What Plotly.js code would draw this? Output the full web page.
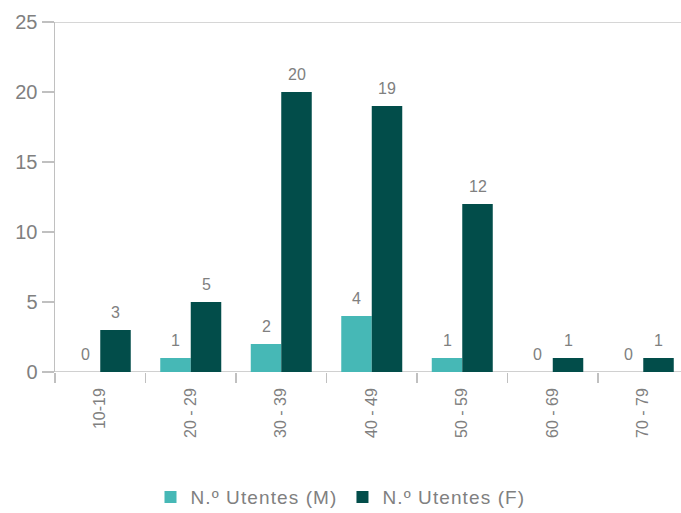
<!DOCTYPE html>
<html><head><meta charset="utf-8">
<script src="https://cdn.plot.ly/plotly-3.0.1.min.js"></script>
<style>html,body{margin:0;padding:0;background:#fff}
.legendtext{letter-spacing:1.1px}
</style>
</head><body><div id="chart" style="width:681px;height:513px"></div>
<script>
const categories = ["10-19", "20 - 29", "30 - 39", "40 - 49", "50 - 59", "60 - 69", "70 - 79"];
const utentesM = [0, 1, 2, 4, 1, 0, 0];
const utentesF = [3, 5, 20, 19, 12, 1, 1];
const yTicks = [0, 5, 10, 15, 20, 25];

const gray = "#808080";
const fam = "Liberation Sans, Arial, sans-serif";
const traces = [
  {type: "bar", name: "N.º Utentes (M)", x: categories, y: utentesM,
   marker: {color: "#46B8B6"}, hoverinfo: "none"},
  {type: "bar", name: "N.º Utentes (F)", x: categories, y: utentesF,
   marker: {color: "#024D4A"}, hoverinfo: "none"}
];
// value labels, built from the data arrays; offsets place them over each bar of the group
const halfBar = 15.25;
const annotations = [];
categories.forEach((c, i) => {
  annotations.push({x: c, y: utentesM[i], xref: "x", yref: "y", text: String(utentesM[i]),
    showarrow: false, xshift: -halfBar, yshift: 7, yanchor: "bottom",
    font: {family: fam, size: 16, color: gray}});
  annotations.push({x: c, y: utentesF[i], xref: "x", yref: "y", text: String(utentesF[i]),
    showarrow: false, xshift: halfBar, yshift: 7, yanchor: "bottom",
    font: {family: fam, size: 16, color: gray}});
});
const layout = {
  width: 681, height: 513,
  margin: {l: 55, r: 0, t: 22, b: 141, autoexpand: false},
  paper_bgcolor: "#fff", plot_bgcolor: "#fff",
  font: {family: fam, color: gray},
  barmode: "group", bargap: 0.326, bargroupgap: 0,
  showlegend: true,
  legend: {orientation: "h", xref: "container", x: 0.5, xanchor: "center",
           yref: "container", y: 0.031, yanchor: "middle",
           font: {size: 19, color: gray}, itemwidth: 30, traceorder: "normal"},
  xaxis: {type: "category", range: [-0.5, 6.417], showgrid: false, zeroline: false,
          showline: false, ticks: "outside", tickson: "boundaries", ticklen: 10,
          tickcolor: "#c0c0c0", tickwidth: 1.5, tickangle: -90, ticklabelstandoff: 12,
          tickfont: {size: 16, color: gray}},
  yaxis: {range: [0, 25], tickvals: yTicks, showgrid: false, zeroline: false,
          showline: true, linecolor: "#c0c0c0", linewidth: 1.5,
          ticks: "outside", ticklen: 12, tickcolor: "#c0c0c0", tickwidth: 1.5,
          tickfont: {size: 20, color: gray}},
  annotations: annotations,
  shapes: [
    {type: "line", xref: "paper", yref: "y", x0: 0, x1: 1, y0: 0, y1: 0,
     line: {color: "#c0c0c0", width: 1.5}, layer: "below"},
    {type: "line", xref: "paper", yref: "y", x0: 0, x1: 1, y0: 25, y1: 25,
     line: {color: "#c8c8c8", width: 1.5}, layer: "below"}
  ]
};
Plotly.newPlot("chart", traces, layout, {displayModeBar: false, staticPlot: true});
</script></body></html>
